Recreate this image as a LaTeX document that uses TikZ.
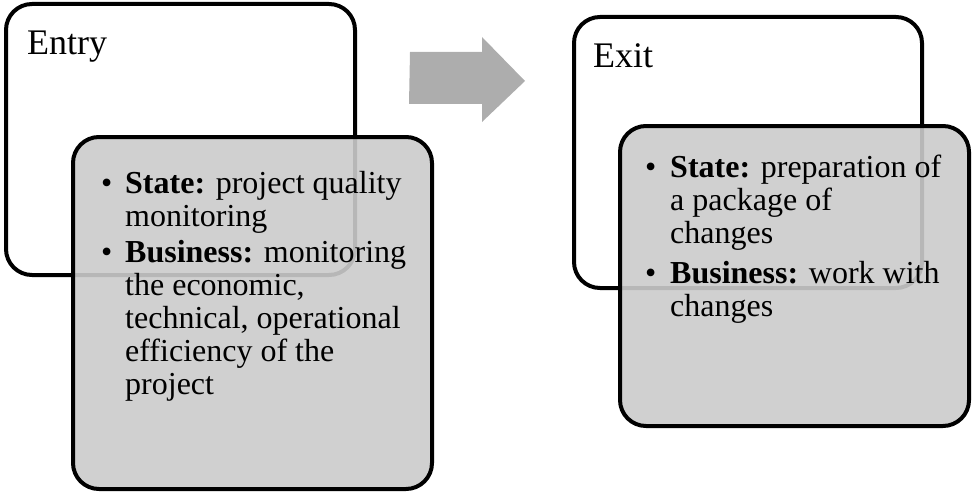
\documentclass[tikz,border=0pt]{standalone}
\usepackage{fontspec}
\setmainfont{Liberation Serif}
\definecolor{boxgray}{RGB}{203,203,203}
\definecolor{arrowgray}{RGB}{173,173,173}
\newcommand{\lines}[1]{\begin{tabular}[t]{@{}l@{}}#1\end{tabular}}
\tikzset{
  whitebox/.style={draw=black, line width=4pt, rounded corners=26pt, fill=white, inner sep=0pt},
  graybox/.style={draw=black, line width=4pt, rounded corners=26pt, fill=boxgray, fill opacity=0.9, text opacity=1, inner sep=0pt},
  title/.style={anchor=base west, inner sep=0pt, font=\fontsize{36pt}{40pt}\selectfont},
  bodytext/.style={anchor=base west, inner sep=0pt, font=\fontsize{32pt}{33pt}\selectfont},
  bulletmark/.style={anchor=base west, inner sep=0pt, font=\fontsize{32pt}{33pt}\selectfont}
}
\begin{document}
\begin{tikzpicture}[x=1pt,y=-1pt]
\useasboundingbox (0,0) rectangle (973,492);
% left group
\node[whitebox, minimum width=349pt, minimum height=271pt] (entryBox) at (180.5,139.5) {};
\node[title] (entryTitle) at (27,55) {Entry};
\node[graybox, minimum width=359pt, minimum height=352pt] (entryBody) at (252.5,313) {};
\node[bulletmark] (b1) at (101,193) {\textbullet};
\node[bodytext] (t1) at (125,193) {\lines{\textbf{State:} project quality\\monitoring}};
\node[bulletmark] (b2) at (101,262) {\textbullet};
\node[bodytext] (t2) at (125,262) {\lines{\textbf{Business:} monitoring\\the economic,\\technical, operational\\efficiency of the\\project}};
% arrow
\fill[arrowgray] (410,52) -- (482,52) -- (482,37) -- (525,81) -- (482,122) -- (482,104) -- (409,104) -- cycle;
% right group
\node[whitebox, minimum width=348pt, minimum height=271pt] (exitBox) at (748,152.5) {};
\node[title] (exitTitle) at (593,68) {Exit};
\node[graybox, minimum width=349pt, minimum height=300pt] (exitBody) at (794.5,276) {};
\node[bulletmark] (b3) at (645,177) {\textbullet};
\node[bodytext] (t3) at (670,177) {\lines{\textbf{State:} preparation of\\a package of\\changes}};
\node[bulletmark] (b4) at (645,283) {\textbullet};
\node[bodytext] (t4) at (670,283) {\lines{\textbf{Business:} work with\\changes}};
\end{tikzpicture}
\end{document}
